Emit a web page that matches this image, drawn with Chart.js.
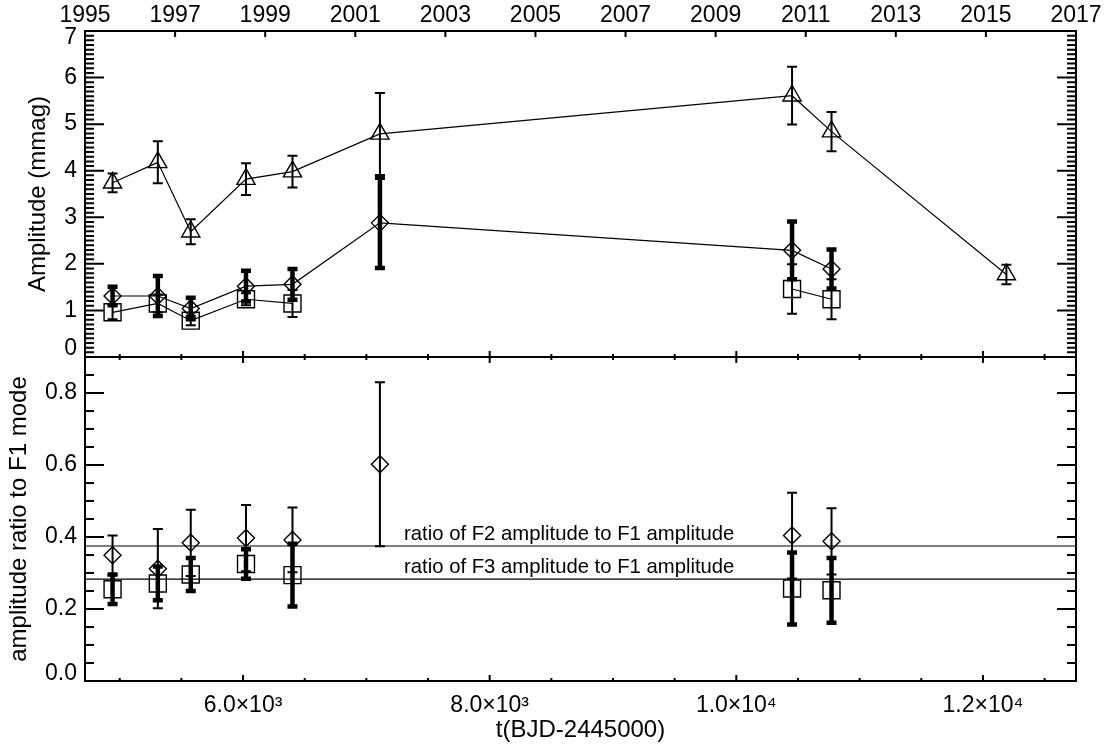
<!DOCTYPE html>
<html><head><meta charset="utf-8">
<script src="https://cdn.jsdelivr.net/npm/chart.js@4.4.1/dist/chart.umd.min.js"></script>
<style>
html,body{margin:0;padding:0;background:#fff;}
#wrap{position:relative;width:1113px;height:749px;background:#fff;}
canvas{position:absolute;left:0;top:0;}
</style></head><body>
<div id="wrap"><canvas id="cTop" width="1113" height="749"></canvas><canvas id="cBot" width="1113" height="749"></canvas></div>
<script>
// ---- data (BJD-2445000) ----
const epochs     = [4942, 5309, 5576, 6024, 6401, 7110, 10452, 10772, 12190];
const ampF1      = [3.74, 4.18, 2.69, 3.82, 3.98, 4.79, 5.61, 4.84, 1.77];
const errF1      = [0.20, 0.45, 0.27, 0.34, 0.34, 0.88, 0.62, 0.42, 0.21];
const ampF2      = [1.31, 1.31, 1.04, 1.52, 1.56, 2.88, 2.29, 1.89, null];
const errF2      = [0.20, 0.43, 0.23, 0.33, 0.33, 0.97, 0.62, 0.42, null];
const ampF3      = [0.96, 1.15, 0.78, 1.24, 1.15, null, 1.46, 1.24, null];
const errF3      = [0.15, 0.19, 0.10, 0.13, 0.29, null, 0.53, 0.43, null];
const ratioF2    = [0.349, 0.312, 0.384, 0.397, 0.392, 0.602, 0.404, 0.388, null];
const ratioF2Err = [0.055, 0.110, 0.092, 0.092, 0.090, 0.228, 0.119, 0.092, null];
const ratioF3    = [0.255, 0.271, 0.296, 0.325, 0.294, null, 0.257, 0.252, null];
const ratioF3Err = [0.041, 0.047, 0.046, 0.041, 0.087, null, 0.100, 0.090, null];
const meanRatioF2 = 0.375;
const meanRatioF3 = 0.283;
const labelF2 = 'ratio of F2 amplitude to F1 amplitude';
const labelF3 = 'ratio of F3 amplitude to F1 amplitude';

// ---- axes ----
const xMin = 4718.5, xMax = 12754.5;          // 1995.0 .. 2017.0
const yearMin = 1995, yearMax = 2017;
const yearTicks = [1995, 1997, 1999, 2001, 2003, 2005, 2007, 2009, 2011, 2013, 2015, 2017];
const bjdTicks  = [6000, 8000, 10000, 12000];
const bjdLabels = ['6.0×10³', '8.0×10³', '1.0×10⁴', '1.2×10⁴'];
const ampTicks  = [0, 1, 2, 3, 4, 5, 6, 7];
const ampLabels = ['0', '1', '2', '3', '4', '5', '6', '7'];
const ratioTicks = [0.0, 0.2, 0.4, 0.6, 0.8];
const ratioLabels = ['0.0', '0.2', '0.4', '0.6', '0.8'];

const FONT = '"Liberation Sans", Arial, Helvetica, sans-serif';
Chart.defaults.font.family = FONT;
Chart.defaults.color = '#000';

const pts = (ys) => epochs.map((t, i) => ({x: t, y: ys[i]}));
const setTicks = (vals) => (s) => { s.ticks = vals.map(v => ({value: v})); };
const idxOf = (arr, v) => arr.findIndex(t => Math.abs(t - v) < 1e-9);

// IDL nudges the end labels inside the frame: emulate with a 2-line label and a per-tick line height
function endLabel(text, where) { return where === 'down' ? ['', text] : [text, '']; }

// IDL-style frame with inward ticks
const framePlugin = {
  id: 'frameTicks',
  afterDraw(chart, args, o) {
    const ctx = chart.ctx, a = chart.chartArea;
    const ys = chart.scales.y, xs = chart.scales.x;
    ctx.save();
    ctx.strokeStyle = '#000';
    ctx.lineWidth = 2;
    ctx.beginPath();
    const seg = (x1, y1, x2, y2) => { ctx.moveTo(x1, y1); ctx.lineTo(x2, y2); };
    o.yMajor.forEach(v => { const p = ys.getPixelForValue(v);
      seg(a.left, p, a.left + 19, p); seg(a.right, p, a.right - 19, p); });
    const n = Math.round((ys.max - ys.min) / o.yMinorStep);
    for (let k = 0; k <= n; k++) { const p = ys.getPixelForValue(ys.min + k * o.yMinorStep);
      seg(a.left, p, a.left + 9, p); seg(a.right, p, a.right - 9, p); }
    const m = Math.round((xs.max - 5000) / 500);
    o.xEdges.forEach(edge => {
      const y0 = edge === 'top' ? a.top : a.bottom, dir = edge === 'top' ? 1 : -1;
      for (let k = 0; k <= m; k++) { const v = 5000 + k * 500; if (v <= xs.min || v >= xs.max) continue;
        const p = xs.getPixelForValue(v); const len = (v % 2000 === 0) ? 6 : 3;
        seg(p, y0, p, y0 + dir * len); }
    });
    if (o.yearAxis) {
      const ya = chart.scales.xYear;
      yearTicks.forEach(v => { if (v <= yearMin || v >= yearMax) return;
        const p = ya.getPixelForValue(v); seg(p, a.top, p, a.top + 6); });
    }
    ctx.stroke();
    ctx.beginPath();
    ctx.rect(a.left, a.top, a.right - a.left, a.bottom - a.top);
    ctx.stroke();
    ctx.restore();
  }
};

const errorBarPlugin = {
  id: 'errorBars',
  afterDatasetsDraw(chart) {
    const ctx = chart.ctx;
    chart.data.datasets.forEach((ds, di) => {
      if (!ds.errors) return;
      const meta = chart.getDatasetMeta(di);
      const xs = chart.scales[meta.xAxisID], ys = chart.scales[meta.yAxisID];
      ctx.save();
      ctx.strokeStyle = '#000';
      ctx.lineWidth = ds.errWidth;
      ds.data.forEach((p, i) => {
        const e = ds.errors[i];
        if (p.y == null || e == null) return;
        const x = xs.getPixelForValue(p.x);
        const y1 = ys.getPixelForValue(p.y + e), y2 = ys.getPixelForValue(p.y - e);
        ctx.beginPath();
        ctx.moveTo(x, y1); ctx.lineTo(x, y2);
        ctx.moveTo(x - 5, y1); ctx.lineTo(x + 5, y1);
        ctx.moveTo(x - 5, y2); ctx.lineTo(x + 5, y2);
        ctx.stroke();
      });
      ctx.restore();
    });
  }
};

const textPlugin = {
  id: 'lineLabels',
  afterDatasetsDraw(chart) {
    const ctx = chart.ctx, xs = chart.scales.x, ys = chart.scales.y;
    ctx.save();
    ctx.fillStyle = '#000';
    ctx.font = '20.3px ' + FONT;
    ctx.textAlign = 'left';
    ctx.textBaseline = 'alphabetic';
    const x0 = xs.getPixelForValue(7306);
    ctx.fillText(labelF2, x0, ys.getPixelForValue(meanRatioF2) - 6);
    ctx.fillText(labelF3, x0, ys.getPixelForValue(meanRatioF3) - 6);
    ctx.restore();
  }
};

const common = {
  responsive: false, animation: false, devicePixelRatio: 1, events: [],
  plugins: {legend: {display: false}, tooltip: {enabled: false}},
};
const tickFont = {size: 23, family: FONT};
const titleFont = {size: 24, family: FONT};
const hollow = 'rgba(0,0,0,0)';

new Chart(document.getElementById('cTop'), {
  type: 'line',
  data: {datasets: [
    {data: pts(ampF1), errors: errF1, errWidth: 2, borderColor: '#000', borderWidth: 1.2,
     pointStyle: 'triangle', pointRadius: 10.5, pointBorderWidth: 1.4, pointBackgroundColor: hollow, pointBorderColor: '#000'},
    {data: pts(ampF2), errors: errF2, errWidth: 4.5, borderColor: '#000', borderWidth: 1.2,
     pointStyle: 'rectRot', pointRadius: 8.5, pointBorderWidth: 1.4, pointBackgroundColor: hollow, pointBorderColor: '#000'},
    {data: pts(ampF3), errors: errF3, errWidth: 2, borderColor: '#000', borderWidth: 1.2,
     pointStyle: 'rect', pointRadius: 12, pointBorderWidth: 1.4, pointBackgroundColor: hollow, pointBorderColor: '#000'}
  ]},
  options: Object.assign({}, common, {
    spanGaps: false,
    layout: {autoPadding: false, padding: {left: 0, top: 0, right: 37, bottom: 392}},
    scales: {
      x: {type: 'linear', display: false, min: xMin, max: xMax},
      xYear: {type: 'linear', position: 'top', min: yearMin, max: yearMax,
        afterBuildTicks: setTicks(yearTicks), afterFit: s => { s.height = 31; },
        grid: {display: false, drawTicks: false}, border: {display: false},
        ticks: {font: tickFont, padding: 2, maxRotation: 0, autoSkip: false, callback: v => String(v)}},
      y: {type: 'linear', position: 'left', min: 0, max: 7,
        afterBuildTicks: setTicks(ampTicks), afterFit: s => { s.width = 85; },
        grid: {display: false, drawTicks: false}, border: {display: false},
        ticks: {padding: 8, autoSkip: false,
          font: (c) => (c.index === 0 ? {size: 23, family: FONT, lineHeight: '16px'}
                       : c.index === ampTicks.length - 1 ? {size: 23, family: FONT, lineHeight: '13px'} : tickFont),
          callback: (v) => { const i = idxOf(ampTicks, v);
            return i === 0 ? endLabel(ampLabels[i], 'up') : i === ampTicks.length - 1 ? endLabel(ampLabels[i], 'down') : ampLabels[i]; }},
        title: {display: true, text: 'Amplitude (mmag)', font: titleFont, padding: {top: 24, bottom: 0}}}
    },
    plugins: Object.assign({}, common.plugins, {
      frameTicks: {yMajor: ampTicks, yMinorStep: 0.1, xEdges: ['bottom'], yearAxis: true}})
  }),
  plugins: [errorBarPlugin, framePlugin]
});

new Chart(document.getElementById('cBot'), {
  type: 'line',
  data: {datasets: [
    {data: [{x: xMin, y: meanRatioF2}, {x: xMax, y: meanRatioF2}], borderColor: '#000', borderWidth: 1.2, pointRadius: 0},
    {data: [{x: xMin, y: meanRatioF3}, {x: xMax, y: meanRatioF3}], borderColor: '#000', borderWidth: 1.2, pointRadius: 0},
    {data: pts(ratioF2), errors: ratioF2Err, errWidth: 2, showLine: false,
     pointStyle: 'rectRot', pointRadius: 8.5, pointBorderWidth: 1.4, pointBackgroundColor: hollow, pointBorderColor: '#000'},
    {data: pts(ratioF3), errors: ratioF3Err, errWidth: 4.5, showLine: false,
     pointStyle: 'rect', pointRadius: 12, pointBorderWidth: 1.4, pointBackgroundColor: hollow, pointBorderColor: '#000'}
  ]},
  options: Object.assign({}, common, {
    layout: {autoPadding: false, padding: {left: 0, top: 357, right: 37, bottom: 0}},
    scales: {
      x: {type: 'linear', position: 'bottom', min: xMin, max: xMax,
        afterBuildTicks: setTicks(bjdTicks), afterFit: s => { s.height = 68; },
        grid: {display: false, drawTicks: false}, border: {display: false},
        ticks: {font: tickFont, padding: 11, maxRotation: 0, autoSkip: false,
          callback: (v) => bjdLabels[idxOf(bjdTicks, v)]},
        title: {display: true, text: 't(BJD-2445000)', font: titleFont, padding: {top: 0, bottom: 4}}},
      y: {type: 'linear', position: 'left', min: 0, max: 0.9,
        afterBuildTicks: setTicks(ratioTicks), afterFit: s => { s.width = 85; },
        grid: {display: false, drawTicks: false}, border: {display: false},
        ticks: {padding: 8, autoSkip: false,
          font: (c) => (c.index === 0 ? {size: 23, family: FONT, lineHeight: '14px'} : tickFont),
          callback: (v) => { const i = idxOf(ratioTicks, v);
            return i === 0 ? endLabel(ratioLabels[i], 'up') : ratioLabels[i]; }},
        title: {display: true, text: 'amplitude ratio to F1 mode', font: titleFont, padding: {top: 5, bottom: 0}}}
    },
    plugins: Object.assign({}, common.plugins, {
      frameTicks: {yMajor: ratioTicks, yMinorStep: 0.05, xEdges: ['top', 'bottom']}})
  }),
  plugins: [errorBarPlugin, textPlugin, framePlugin]
});
</script>
</body></html>
